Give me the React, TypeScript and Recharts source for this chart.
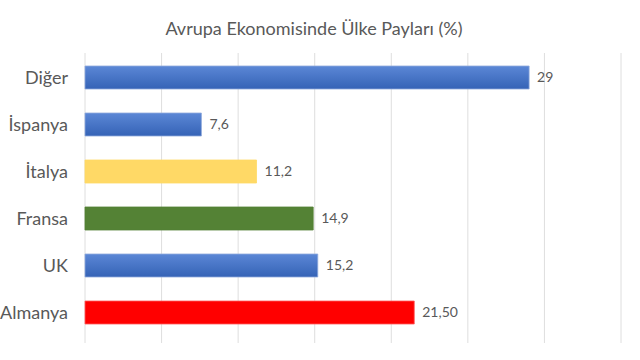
import { BarChart, Bar, XAxis, YAxis, CartesianGrid, Cell, LabelList } from 'recharts'

const countries = ['Diğer', 'İspanya', 'İtalya', 'Fransa', 'UK', 'Almanya']
const shares = [29, 7.6, 11.2, 14.9, 15.2, 21.5]
const shareLabels = ['29', '7,6', '11,2', '14,9', '15,2', '21,50']
const barFills = ['url(#blueGrad)', 'url(#blueGrad)', '#ffd966', '#548235', 'url(#blueGrad)', '#ff0000']
const barStrokes = ['#8fa9dc', '#8fa9dc', '#ffd966', '#548235', '#8fa9dc', '#ff5a5a']
const xTicks = [0, 5, 10, 15, 20, 25, 30, 35]

const data = countries.map((name, i) => ({ name, value: shares[i], label: shareLabels[i] }))

const font = 'Lato, "Open Sans", sans-serif'

export default function App() {
  return (
    <div style={{ position: 'absolute', top: 0, left: 0, width: 640, height: 360, background: '#fff', fontFamily: font }}>
      <div
        style={{
          position: 'absolute',
          top: 16,
          left: 0,
          width: 628,
          textAlign: 'center',
          fontSize: 18,
          color: '#595959',
          lineHeight: '24px'
        }}
      >
        Avrupa Ekonomisinde Ülke Payları (%)
      </div>
      <BarChart
        width={640}
        height={360}
        data={data}
        layout="vertical"
        margin={{ top: 53, right: 19, bottom: 17, left: 0 }}
        barSize={23}
      >
        <defs>
          <linearGradient id="blueGrad" x1="0" y1="0" x2="0" y2="1">
            <stop offset="0%" stopColor="#5b87d6" />
            <stop offset="100%" stopColor="#3563b6" />
          </linearGradient>
        </defs>
        <CartesianGrid horizontal={false} stroke="#dedede" />
        <XAxis type="number" domain={[0, 35]} ticks={xTicks} hide />
        <YAxis
          type="category"
          dataKey="name"
          width={85}
          axisLine={false}
          tickLine={false}
          tickMargin={11}
          padding={{ top: 1, bottom: 7 }}
          tick={{ fill: '#595959', fontSize: 18, fontFamily: font }}
        />
        <Bar dataKey="value" isAnimationActive={false} strokeWidth={0.8}>
          {data.map((d, i) => (
            <Cell key={d.name} fill={barFills[i]} stroke={barStrokes[i]} />
          ))}
          <LabelList dataKey="label" position="right" offset={8} fill="#595959" fontSize={14} fontFamily={font} />
        </Bar>
      </BarChart>
    </div>
  )
}
